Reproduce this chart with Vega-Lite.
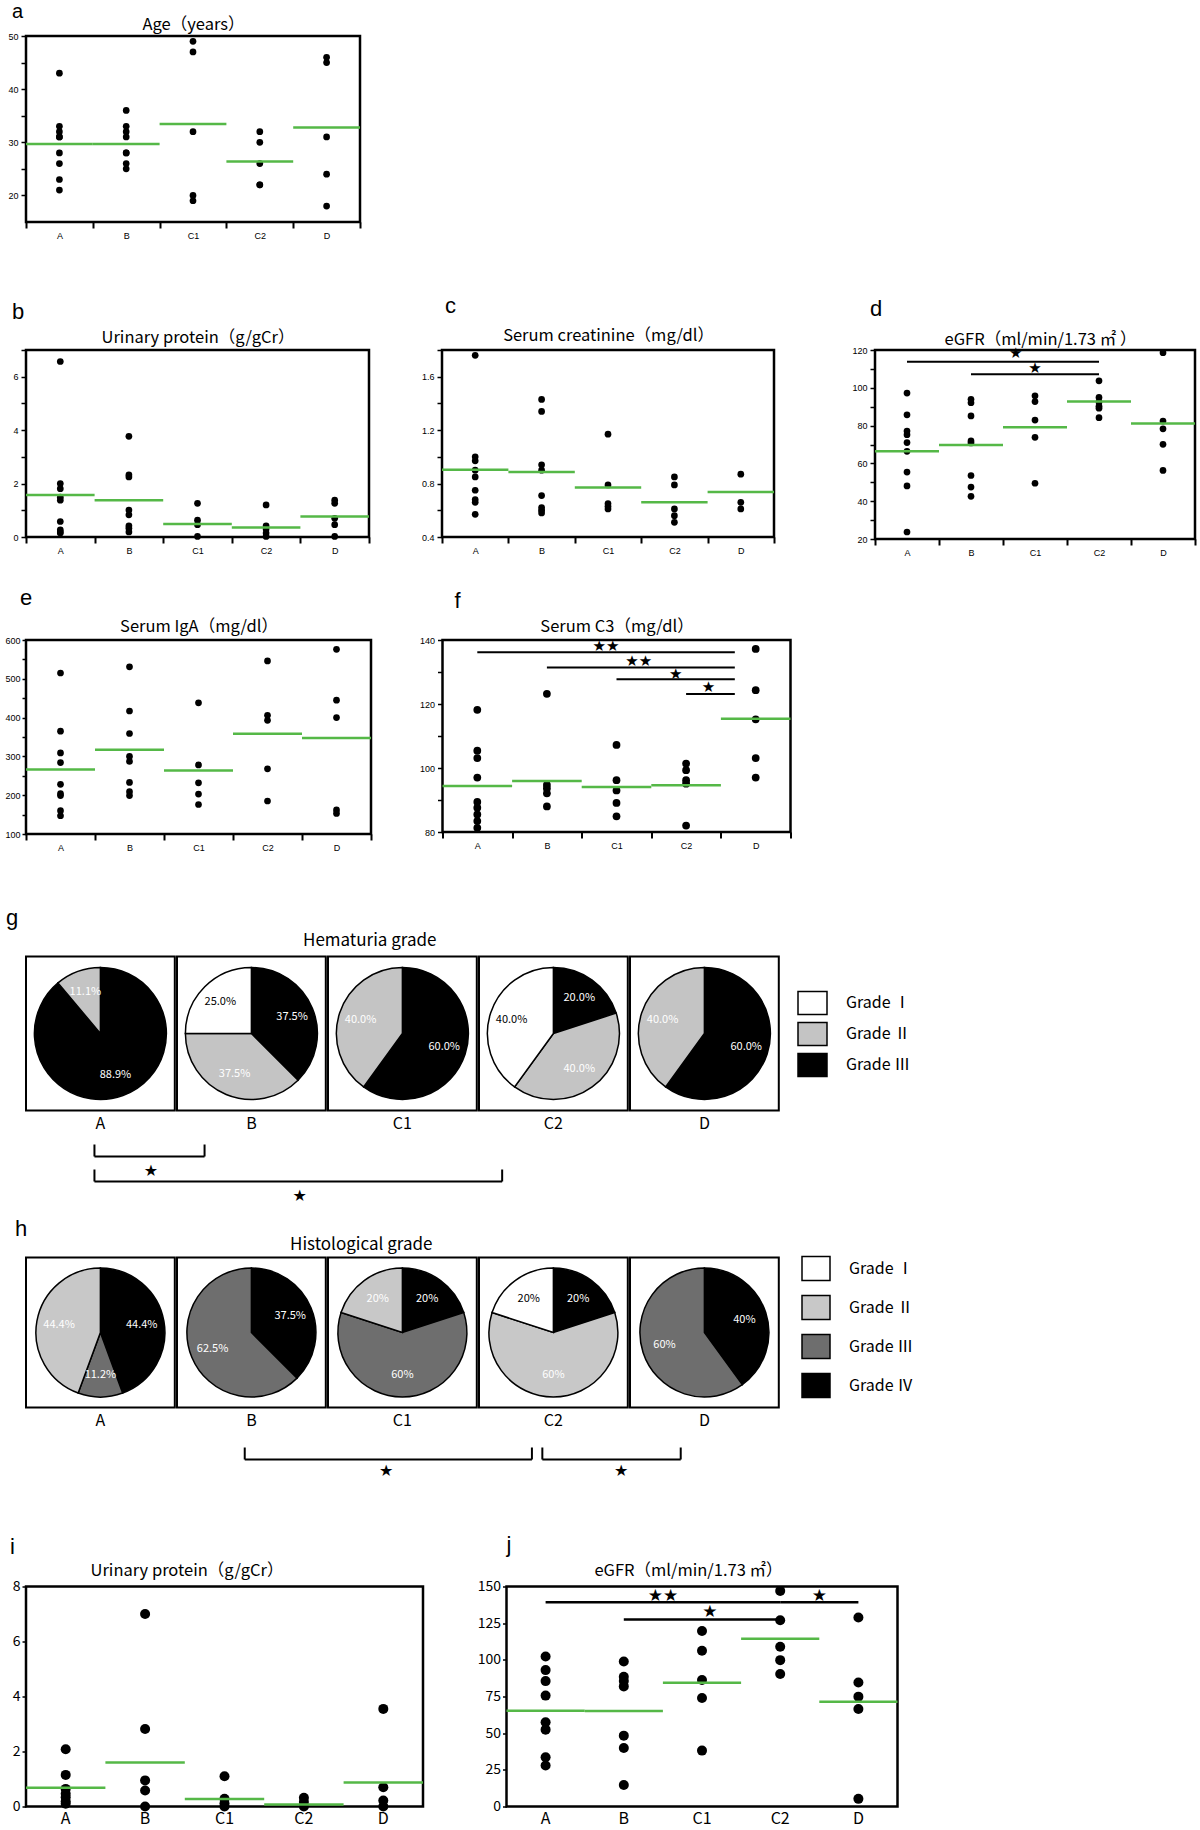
{
"$schema": "https://vega.github.io/schema/vega-lite/v6.json",
"padding": {"left": 0, "top": 0, "right": 0, "bottom": 0},
"background": "white",
"config": {
  "view": {"stroke": "black", "strokeWidth": 2.5},
  "font": "Noto Sans CJK JP",
  "title": {"color": "black", "fontWeight": "normal"},
  "axis": {"labelColor": "black", "tickColor": "black", "grid": false, "domain": false, "titleColor": "black", "titleFontWeight": "normal"},
  "header": {"labelColor": "black"},
  "legend": {"labelColor": "black"}
},
"datasets": {
  "a": [
    {"group":"A","value":43},{"group":"A","value":33},{"group":"A","value":32},{"group":"A","value":31},{"group":"A","value":31},{"group":"A","value":28},{"group":"A","value":26},{"group":"A","value":23},{"group":"A","value":21},
    {"group":"B","value":36},{"group":"B","value":33},{"group":"B","value":32},{"group":"B","value":31},{"group":"B","value":28},{"group":"B","value":28},{"group":"B","value":26},{"group":"B","value":25},
    {"group":"C1","value":49},{"group":"C1","value":47},{"group":"C1","value":32},{"group":"C1","value":20},{"group":"C1","value":19},
    {"group":"C2","value":32},{"group":"C2","value":30},{"group":"C2","value":26},{"group":"C2","value":22},{"group":"C2","value":22},
    {"group":"D","value":46},{"group":"D","value":45},{"group":"D","value":31},{"group":"D","value":24},{"group":"D","value":18}
  ],
  "aMean": [{"group":"A","value":29.7},{"group":"B","value":29.7},{"group":"C1","value":33.45},{"group":"C2","value":26.4},{"group":"D","value":32.8}],
  "b": [
    {"group":"A","value":6.57},{"group":"A","value":2.0},{"group":"A","value":1.81},{"group":"A","value":1.49},{"group":"A","value":1.38},{"group":"A","value":0.58},{"group":"A","value":0.27},{"group":"A","value":0.19},{"group":"A","value":0.15},
    {"group":"B","value":3.77},{"group":"B","value":2.33},{"group":"B","value":2.25},{"group":"B","value":1.01},{"group":"B","value":0.83},{"group":"B","value":0.42},{"group":"B","value":0.33},{"group":"B","value":0.19},
    {"group":"C1","value":1.26},{"group":"C1","value":0.63},{"group":"C1","value":0.46},{"group":"C1","value":0.02},
    {"group":"C2","value":1.2},{"group":"C2","value":0.42},{"group":"C2","value":0.3},{"group":"C2","value":0.15},{"group":"C2","value":0.02},
    {"group":"D","value":1.38},{"group":"D","value":1.26},{"group":"D","value":0.7},{"group":"D","value":0.46},{"group":"D","value":0.02}
  ],
  "bMean": [{"group":"A","value":1.57},{"group":"B","value":1.38},{"group":"C1","value":0.49},{"group":"C2","value":0.36},{"group":"D","value":0.77}],
  "c": [
    {"group":"A","value":1.76},{"group":"A","value":1.0},{"group":"A","value":0.97},{"group":"A","value":0.9},{"group":"A","value":0.85},{"group":"A","value":0.75},{"group":"A","value":0.68},{"group":"A","value":0.66},{"group":"A","value":0.57},
    {"group":"B","value":1.43},{"group":"B","value":1.34},{"group":"B","value":0.94},{"group":"B","value":0.9},{"group":"B","value":0.71},{"group":"B","value":0.62},{"group":"B","value":0.6},{"group":"B","value":0.58},
    {"group":"C1","value":1.17},{"group":"C1","value":0.79},{"group":"C1","value":0.65},{"group":"C1","value":0.63},{"group":"C1","value":0.61},
    {"group":"C2","value":0.85},{"group":"C2","value":0.79},{"group":"C2","value":0.61},{"group":"C2","value":0.56},{"group":"C2","value":0.51},
    {"group":"D","value":0.87},{"group":"D","value":0.66},{"group":"D","value":0.61}
  ],
  "cMean": [{"group":"A","value":0.903},{"group":"B","value":0.886},{"group":"C1","value":0.77},{"group":"C2","value":0.66},{"group":"D","value":0.737}],
  "d": [
    {"group":"A","value":97.2},{"group":"A","value":85.7},{"group":"A","value":77.1},{"group":"A","value":75.2},{"group":"A","value":71.0},{"group":"A","value":66.4},{"group":"A","value":55.4},{"group":"A","value":48.1},{"group":"A","value":23.7},
    {"group":"B","value":93.9},{"group":"B","value":92.1},{"group":"B","value":85.1},{"group":"B","value":71.9},{"group":"B","value":70.8},{"group":"B","value":53.6},{"group":"B","value":47.5},{"group":"B","value":42.6},
    {"group":"C1","value":95.8},{"group":"C1","value":92.7},{"group":"C1","value":82.9},{"group":"C1","value":73.8},{"group":"C1","value":49.5},
    {"group":"C2","value":103.7},{"group":"C2","value":94.9},{"group":"C2","value":92.5},{"group":"C2","value":90.3},{"group":"C2","value":89.2},{"group":"C2","value":84.2},
    {"group":"D","value":118.6},{"group":"D","value":82.4},{"group":"D","value":78.3},{"group":"D","value":70.1},{"group":"D","value":56.3}
  ],
  "dMean": [{"group":"A","value":66.4},{"group":"B","value":69.7},{"group":"C1","value":79.1},{"group":"C2","value":92.8},{"group":"D","value":81.1}],
  "dSig": [{"from":"A","to":"C2","value":113.8},{"from":"B","to":"C2","value":107.2}],
  "dStar1": [{"at":"C1","value":118.2,"label":"★"}],
  "dStar2": [{"at":"C1","value":110.3,"label":"★"}],
  "e": [
    {"group":"A","value":515},{"group":"A","value":365},{"group":"A","value":309},{"group":"A","value":284},{"group":"A","value":228},{"group":"A","value":204},{"group":"A","value":199},{"group":"A","value":160},{"group":"A","value":147},
    {"group":"B","value":531},{"group":"B","value":417},{"group":"B","value":359},{"group":"B","value":300},{"group":"B","value":287},{"group":"B","value":233},{"group":"B","value":209},{"group":"B","value":199},
    {"group":"C1","value":438},{"group":"C1","value":278},{"group":"C1","value":232},{"group":"C1","value":203},{"group":"C1","value":176},
    {"group":"C2","value":546},{"group":"C2","value":406},{"group":"C2","value":393},{"group":"C2","value":268},{"group":"C2","value":185},
    {"group":"D","value":576},{"group":"D","value":445},{"group":"D","value":400},{"group":"D","value":162},{"group":"D","value":153}
  ],
  "eMean": [{"group":"A","value":266.4},{"group":"B","value":317.2},{"group":"C1","value":263.8},{"group":"C2","value":358.6},{"group":"D","value":347.4}],
  "f": [
    {"group":"A","value":118.2},{"group":"A","value":105.4},{"group":"A","value":103.1},{"group":"A","value":97.0},{"group":"A","value":89.4},{"group":"A","value":87.6},{"group":"A","value":85.5},{"group":"A","value":83.4},{"group":"A","value":81.3},
    {"group":"B","value":123.2},{"group":"B","value":94.7},{"group":"B","value":93.6},{"group":"B","value":92.1},{"group":"B","value":88.0},
    {"group":"C1","value":107.2},{"group":"C1","value":96.2},{"group":"C1","value":93.0},{"group":"C1","value":89.1},{"group":"C1","value":84.9},
    {"group":"C2","value":101.4},{"group":"C2","value":99.3},{"group":"C2","value":96.2},{"group":"C2","value":95.1},{"group":"C2","value":82.0},
    {"group":"D","value":137.2},{"group":"D","value":124.3},{"group":"D","value":115.2},{"group":"D","value":103.1},{"group":"D","value":97.0}
  ],
  "fMean": [{"group":"A","value":94.4},{"group":"B","value":95.9},{"group":"C1","value":94.1},{"group":"C2","value":94.6},{"group":"D","value":115.4}],
  "fSig": [{"from":"A","to":"D","value":136.2},{"from":"B","to":"D","value":131.4},{"from":"C1","to":"D","value":127.7},{"from":"C2","to":"D","value":123.1}],
  "fStar1": [{"at":"C1","value":138.1,"label":"★★"},{"at":"C2","value":129.3,"label":"★"}],
  "fStar2": [{"at":"C1","value":133.4,"label":"★★"},{"at":"C2","value":125.3,"label":"★"}],
  "gPie": [
    {"group":"A","grade":"Grade Ⅲ","pct":88.9,"label":"88.9%"},{"group":"A","grade":"Grade Ⅱ","pct":11.1,"label":"11.1%"},
    {"group":"B","grade":"Grade Ⅲ","pct":37.5,"label":"37.5%"},{"group":"B","grade":"Grade Ⅱ","pct":37.5,"label":"37.5%"},{"group":"B","grade":"Grade Ⅰ","pct":25.0,"label":"25.0%"},
    {"group":"C1","grade":"Grade Ⅲ","pct":60.0,"label":"60.0%"},{"group":"C1","grade":"Grade Ⅱ","pct":40.0,"label":"40.0%"},
    {"group":"C2","grade":"Grade Ⅲ","pct":20.0,"label":"20.0%"},{"group":"C2","grade":"Grade Ⅱ","pct":40.0,"label":"40.0%"},{"group":"C2","grade":"Grade Ⅰ","pct":40.0,"label":"40.0%"},
    {"group":"D","grade":"Grade Ⅲ","pct":60.0,"label":"60.0%"},{"group":"D","grade":"Grade Ⅱ","pct":40.0,"label":"40.0%"}
  ],
  "gSig": [{"from":"A","to":"B","level":1},{"from":"A","to":"C2","level":2}],
  "gStar": [{"at":"A","level":1,"label":"★"},{"at":"B","level":2,"label":"★"}],
  "hPie": [
    {"group":"A","grade":"Grade Ⅳ","pct":44.4,"label":"44.4%"},{"group":"A","grade":"Grade Ⅲ","pct":11.2,"label":"11.2%"},{"group":"A","grade":"Grade Ⅱ","pct":44.4,"label":"44.4%"},
    {"group":"B","grade":"Grade Ⅳ","pct":37.5,"label":"37.5%"},{"group":"B","grade":"Grade Ⅲ","pct":62.5,"label":"62.5%"},
    {"group":"C1","grade":"Grade Ⅳ","pct":20,"label":"20%"},{"group":"C1","grade":"Grade Ⅲ","pct":60,"label":"60%"},{"group":"C1","grade":"Grade Ⅱ","pct":20,"label":"20%"},
    {"group":"C2","grade":"Grade Ⅳ","pct":20,"label":"20%"},{"group":"C2","grade":"Grade Ⅱ","pct":60,"label":"60%"},{"group":"C2","grade":"Grade Ⅰ","pct":20,"label":"20%"},
    {"group":"D","grade":"Grade Ⅳ","pct":40,"label":"40%"},{"group":"D","grade":"Grade Ⅲ","pct":60,"label":"60%"}
  ],
  "hSig": [{"from":"B","to":"C2","level":1},{"from":"C2","to":"D","level":1}],
  "hStar1": [{"at":"C1","level":1,"label":"★"}],
  "hStar2": [{"at":"D","level":1,"label":"★"}],
  "i": [
    {"group":"A","value":2.08},{"group":"A","value":1.15},{"group":"A","value":0.64},{"group":"A","value":0.46},{"group":"A","value":0.34},{"group":"A","value":0.19},{"group":"A","value":0.1},
    {"group":"B","value":7.0},{"group":"B","value":2.82},{"group":"B","value":0.95},{"group":"B","value":0.58},{"group":"B","value":0},
    {"group":"C1","value":1.1},{"group":"C1","value":0.28},{"group":"C1","value":0.12},{"group":"C1","value":0},
    {"group":"C2","value":0.32},{"group":"C2","value":0.16},{"group":"C2","value":0},
    {"group":"D","value":3.55},{"group":"D","value":0.7},{"group":"D","value":0.22},{"group":"D","value":0}
  ],
  "iMean": [{"group":"A","value":0.68},{"group":"B","value":1.6},{"group":"C1","value":0.27},{"group":"C2","value":0.07},{"group":"D","value":0.87}],
  "j": [
    {"group":"A","value":102.3},{"group":"A","value":93},{"group":"A","value":85.5},{"group":"A","value":75.6},{"group":"A","value":57.4},{"group":"A","value":52.4},{"group":"A","value":33.6},{"group":"A","value":27.9},
    {"group":"B","value":98.9},{"group":"B","value":88.5},{"group":"B","value":85.5},{"group":"B","value":81.9},{"group":"B","value":48.3},{"group":"B","value":39.9},{"group":"B","value":14.7},
    {"group":"C1","value":119.6},{"group":"C1","value":106.2},{"group":"C1","value":86.2},{"group":"C1","value":74},{"group":"C1","value":38.1},
    {"group":"C2","value":147},{"group":"C2","value":127},{"group":"C2","value":108.9},{"group":"C2","value":99.8},{"group":"C2","value":90.3},
    {"group":"D","value":128.9},{"group":"D","value":84.6},{"group":"D","value":74.9},{"group":"D","value":66.5},{"group":"D","value":5.2}
  ],
  "jMean": [{"group":"A","value":65.3},{"group":"B","value":65.1},{"group":"C1","value":84.4},{"group":"C2","value":114.4},{"group":"D","value":71.5}],
  "jSig": [{"from":"A","to":"C2","value":139.3},{"from":"B","to":"C2","value":127.5},{"from":"C2","to":"D","value":139.3}],
  "jStar1": [{"at":"C1","value":143.6,"label":"★★"},{"at":"D","value":143.6,"label":"★"}],
  "jStar2": [{"at":"C1","value":132.3,"label":"★"}]
},
"columns": 1, "align": "none", "spacing": 51,
"resolve": {"scale": {"color": "independent"}, "legend": {"color": "independent"}},
"concat": [
  {
    "width": 334, "height": 186,
    "title": {"text": "a", "anchor": "start", "frame": "bounds", "dx": 10, "offset": -6, "fontSize": 20, "font": "Liberation Sans"},
    "encoding": {"y": {"field": "value", "type": "quantitative", "scale": {"domain": [15, 50], "nice": false, "zero": false}, "axis": {"title": "Age（years）", "titleAngle": 0, "titleX": 167, "titleY": -4, "titleAlign": "center", "titleBaseline": "bottom", "titleFontSize": 16.5, "titleFont": "Noto Sans CJK JP", "values": [20,25,30,35,40,45,50], "labelExpr": "datum.value % 10 === 0 ? datum.label : ''", "domain": false, "grid": false, "tickSize": 5, "tickWidth": 1.5, "labelFontSize": 9, "labelFont": "Liberation Sans", "labelPadding": 3, "minExtent": 24, "labelFlush": false, "labelOverlap": false}}},
    "layer": [
      {"data": {"name": "a"}, "mark": {"type": "circle", "size": 45, "color": "black", "opacity": 1},
       "encoding": {"x": {"field": "group", "type": "nominal", "scale": {"domain": ["A","B","C1","C2","D"], "paddingInner": 0, "paddingOuter": 0}, "axis": {"title": null, "labelAngle": 0, "tickBand": "extent", "domain": false, "grid": false, "tickSize": 6, "tickWidth": 2, "labelFontSize": 9, "labelFont": "Liberation Sans", "labelPadding": 3}}}},
      {"data": {"name": "aMean"}, "mark": {"type": "tick", "color": "#55b847", "thickness": 2.5, "size": 66.8, "opacity": 1},
       "encoding": {"x": {"field": "group", "type": "nominal"}}}
    ]
  },
  {
    "columns": 1, "align": "none", "spacing": 26,
    "resolve": {"scale": {"color": "independent"}, "legend": {"color": "independent"}},
    "concat": [
      {
        "columns": 3, "align": "none", "spacing": 38,
        "concat": [
          {
            "width": 343, "height": 187,
            "title": {"text": "b", "anchor": "start", "frame": "bounds", "dx": 10, "offset": 5, "fontSize": 22, "font": "Liberation Sans"},
            "encoding": {"y": {"field": "value", "type": "quantitative", "scale": {"domain": [0, 7], "nice": false, "zero": false}, "axis": {"title": "Urinary protein（g/gCr）", "titleAngle": 0, "titleX": 171.5, "titleY": -5, "titleAlign": "center", "titleBaseline": "bottom", "titleFontSize": 16.5, "titleFont": "Noto Sans CJK JP", "values": [0,1,2,3,4,5,6,7], "labelExpr": "datum.value % 2 === 0 ? datum.label : ''", "domain": false, "grid": false, "tickSize": 5, "tickWidth": 1.5, "labelFontSize": 9, "labelFont": "Liberation Sans", "labelPadding": 3, "minExtent": 24, "labelFlush": false, "labelOverlap": false}}},
            "layer": [
              {"data": {"name": "b"}, "mark": {"type": "circle", "size": 45, "color": "black", "opacity": 1},
               "encoding": {"x": {"field": "group", "type": "nominal", "scale": {"domain": ["A","B","C1","C2","D"], "paddingInner": 0, "paddingOuter": 0}, "axis": {"title": null, "labelAngle": 0, "tickBand": "extent", "domain": false, "grid": false, "tickSize": 6, "tickWidth": 2, "labelFontSize": 9, "labelFont": "Liberation Sans", "labelPadding": 3}}}},
              {"data": {"name": "bMean"}, "mark": {"type": "tick", "color": "#55b847", "thickness": 2.5, "size": 68.6, "opacity": 1},
               "encoding": {"x": {"field": "group", "type": "nominal"}}}
            ]
          },
          {
            "width": 332, "height": 187,
            "title": {"text": "c", "anchor": "start", "frame": "bounds", "dx": 33, "offset": 9, "fontSize": 22, "font": "Liberation Sans"},
            "encoding": {"y": {"field": "value", "type": "quantitative", "scale": {"domain": [0.4, 1.8], "nice": false, "zero": false}, "axis": {"title": "Serum creatinine（mg/dl）", "titleAngle": 0, "titleX": 166, "titleY": -7, "titleAlign": "center", "titleBaseline": "bottom", "titleFontSize": 16.5, "titleFont": "Noto Sans CJK JP", "values": [0.4,0.6,0.8,1.0,1.2,1.4,1.6,1.8], "labelExpr": "round(datum.value*10) % 4 === 0 ? format(datum.value, '.1f') : ''", "domain": false, "grid": false, "tickSize": 5, "tickWidth": 1.5, "labelFontSize": 9, "labelFont": "Liberation Sans", "labelPadding": 3, "minExtent": 30, "labelFlush": false, "labelOverlap": false}}},
            "layer": [
              {"data": {"name": "c"}, "mark": {"type": "circle", "size": 45, "color": "black", "opacity": 1},
               "encoding": {"x": {"field": "group", "type": "nominal", "scale": {"domain": ["A","B","C1","C2","D"], "paddingInner": 0, "paddingOuter": 0}, "axis": {"title": null, "labelAngle": 0, "tickBand": "extent", "domain": false, "grid": false, "tickSize": 6, "tickWidth": 2, "labelFontSize": 9, "labelFont": "Liberation Sans", "labelPadding": 3}}}},
              {"data": {"name": "cMean"}, "mark": {"type": "tick", "color": "#55b847", "thickness": 2.5, "size": 66.4, "opacity": 1},
               "encoding": {"x": {"field": "group", "type": "nominal"}}}
            ]
          },
          {
            "width": 320, "height": 189,
            "title": {"text": "d", "anchor": "start", "frame": "bounds", "dx": 53, "offset": 10, "fontSize": 22, "font": "Liberation Sans"},
            "encoding": {"y": {"field": "value", "type": "quantitative", "scale": {"domain": [20, 120], "nice": false, "zero": false}, "axis": {"title": "eGFR（ml/min/1.73 ㎡ ）", "titleAngle": 0, "titleX": 165, "titleY": -3, "titleAlign": "center", "titleBaseline": "bottom", "titleFontSize": 16.5, "titleFont": "Noto Sans CJK JP", "values": [20,30,40,50,60,70,80,90,100,110,120], "labelExpr": "datum.value % 20 === 0 ? datum.label : ''", "domain": false, "grid": false, "tickSize": 5, "tickWidth": 1.5, "labelFontSize": 9, "labelFont": "Liberation Sans", "labelPadding": 3, "minExtent": 58, "labelFlush": false, "labelOverlap": false}}},
            "layer": [
              {"data": {"name": "d"}, "mark": {"type": "circle", "size": 45, "color": "black", "opacity": 1},
               "encoding": {"x": {"field": "group", "type": "nominal", "scale": {"domain": ["A","B","C1","C2","D"], "paddingInner": 0, "paddingOuter": 0}, "axis": {"title": null, "labelAngle": 0, "tickBand": "extent", "domain": false, "grid": false, "tickSize": 6, "tickWidth": 2, "labelFontSize": 9, "labelFont": "Liberation Sans", "labelPadding": 3}}}},
              {"data": {"name": "dMean"}, "mark": {"type": "tick", "color": "#55b847", "thickness": 2.5, "size": 64, "opacity": 1},
               "encoding": {"x": {"field": "group", "type": "nominal"}}},
              {"data": {"name": "dSig"}, "mark": {"type": "rule", "color": "black", "strokeWidth": 2},
               "encoding": {"x": {"field": "from", "type": "nominal"}, "x2": {"field": "to"}}},
              {"data": {"name": "dStar1"}, "mark": {"type": "text", "fontSize": 15, "font": "DejaVu Sans", "color": "black", "baseline": "middle", "align": "center"},
               "encoding": {"x": {"field": "at", "type": "nominal", "bandPosition": 0.2}, "text": {"field": "label", "type": "nominal"}}},
              {"data": {"name": "dStar2"}, "mark": {"type": "text", "fontSize": 15, "font": "DejaVu Sans", "color": "black", "baseline": "middle", "align": "center"},
               "encoding": {"x": {"field": "at", "type": "nominal", "bandPosition": 0.5}, "text": {"field": "label", "type": "nominal"}}}
            ]
          }
        ]
      },
      {
        "columns": 1, "align": "none", "spacing": 52.5,
        "resolve": {"scale": {"color": "independent"}, "legend": {"color": "independent"}},
        "concat": [
          {
            "columns": 2, "align": "none", "spacing": 39.5,
            "concat": [
              {
                "width": 345, "height": 194,
                "title": {"text": "e", "anchor": "start", "frame": "bounds", "dx": 18, "offset": 8, "fontSize": 22, "font": "Liberation Sans"},
                "encoding": {"y": {"field": "value", "type": "quantitative", "scale": {"domain": [100, 600], "nice": false, "zero": false}, "axis": {"title": "Serum IgA（mg/dl）", "titleAngle": 0, "titleX": 172.5, "titleY": -6, "titleAlign": "center", "titleBaseline": "bottom", "titleFontSize": 16.5, "titleFont": "Noto Sans CJK JP", "values": [100,150,200,250,300,350,400,450,500,550,600], "labelExpr": "datum.value % 100 === 0 ? datum.label : ''", "domain": false, "grid": false, "tickSize": 4, "tickWidth": 1.5, "labelFontSize": 9, "labelFont": "Liberation Sans", "labelPadding": 2, "minExtent": 24, "labelFlush": false, "labelOverlap": false}}},
                "layer": [
                  {"data": {"name": "e"}, "mark": {"type": "circle", "size": 45, "color": "black", "opacity": 1},
                   "encoding": {"x": {"field": "group", "type": "nominal", "scale": {"domain": ["A","B","C1","C2","D"], "paddingInner": 0, "paddingOuter": 0}, "axis": {"title": null, "labelAngle": 0, "tickBand": "extent", "domain": false, "grid": false, "tickSize": 6, "tickWidth": 2, "labelFontSize": 9, "labelFont": "Liberation Sans", "labelPadding": 3}}}},
                  {"data": {"name": "eMean"}, "mark": {"type": "tick", "color": "#55b847", "thickness": 2.5, "size": 69, "opacity": 1},
                   "encoding": {"x": {"field": "group", "type": "nominal"}}}
                ]
              },
              {
                "width": 348, "height": 192,
                "title": {"text": "f", "anchor": "start", "frame": "bounds", "dx": 39, "offset": 5, "fontSize": 22, "font": "Liberation Sans"},
                "encoding": {"y": {"field": "value", "type": "quantitative", "scale": {"domain": [80, 140], "nice": false, "zero": false}, "axis": {"title": "Serum C3（mg/dl）", "titleAngle": 0, "titleX": 174, "titleY": -6, "titleAlign": "center", "titleBaseline": "bottom", "titleFontSize": 16.5, "titleFont": "Noto Sans CJK JP", "values": [80,90,100,110,120,130,140], "labelExpr": "(datum.value - 80) % 20 === 0 ? datum.label : ''", "domain": false, "grid": false, "tickSize": 5, "tickWidth": 1.5, "labelFontSize": 9, "labelFont": "Liberation Sans", "labelPadding": 3, "minExtent": 27, "labelFlush": false, "labelOverlap": false}}},
                "layer": [
                  {"data": {"name": "f"}, "mark": {"type": "circle", "size": 60, "color": "black", "opacity": 1},
                   "encoding": {"x": {"field": "group", "type": "nominal", "scale": {"domain": ["A","B","C1","C2","D"], "paddingInner": 0, "paddingOuter": 0}, "axis": {"title": null, "labelAngle": 0, "tickBand": "extent", "domain": false, "grid": false, "tickSize": 6, "tickWidth": 2, "labelFontSize": 9, "labelFont": "Liberation Sans", "labelPadding": 3}}}},
                  {"data": {"name": "fMean"}, "mark": {"type": "tick", "color": "#55b847", "thickness": 2.5, "size": 69.6, "opacity": 1},
                   "encoding": {"x": {"field": "group", "type": "nominal"}}},
                  {"data": {"name": "fSig"}, "mark": {"type": "rule", "color": "black", "strokeWidth": 2},
                   "encoding": {"x": {"field": "from", "type": "nominal", "bandPosition": 0.5}, "x2": {"field": "to", "bandPosition": 0.2}}},
                  {"data": {"name": "fStar1"}, "mark": {"type": "text", "fontSize": 15, "font": "DejaVu Sans", "color": "black", "baseline": "middle", "align": "center"},
                   "encoding": {"x": {"field": "at", "type": "nominal", "bandPosition": 0.35}, "text": {"field": "label", "type": "nominal"}}},
                  {"data": {"name": "fStar2"}, "mark": {"type": "text", "fontSize": 15, "font": "DejaVu Sans", "color": "black", "baseline": "middle", "align": "center"},
                   "encoding": {"x": {"field": "at", "type": "nominal", "bandPosition": 0.82}, "text": {"field": "label", "type": "nominal"}}}
                ]
              }
            ]
          },
          {
            "columns": 1, "align": "none", "spacing": 0,
            "resolve": {"scale": {"color": "independent"}, "legend": {"color": "independent"}},
            "concat": [
              {
                "title": {"text": "g", "anchor": "start", "frame": "bounds", "dx": -19, "offset": 2, "fontSize": 22, "font": "Liberation Sans"},
                "vconcat": [{
                  "data": {"name": "gPie"},
                  "title": {"text": "Hematuria grade", "anchor": "start", "frame": "bounds", "dx": 278, "fontSize": 17, "offset": 5.5},
                  "facet": {"column": {"field": "group", "type": "nominal", "sort": ["A","B","C1","C2","D"], "header": {"title": null, "labelOrient": "bottom", "labelFontSize": 16, "labelFont": "Noto Sans CJK JP", "labelPadding": 4}}},
                  "spacing": 0,
                  "spec": {
                    "width": 148.8, "height": 154,
                    "view": {"stroke": "black", "strokeWidth": 2},
                    "layer": [
                      {"mark": {"type": "arc", "outerRadius": 66, "stroke": "black", "strokeWidth": 1.5},
                       "encoding": {
                         "theta": {"field": "pct", "type": "quantitative", "stack": true},
                         "order": {"field": "grade", "sort": "descending"},
                         "color": {"field": "grade", "type": "nominal", "scale": {"domain": ["Grade Ⅰ","Grade Ⅱ","Grade Ⅲ"], "range": ["#ffffff","#c4c4c4","#000000"]},
                           "legend": {"title": null, "orient": "none", "legendX": 771, "legendY": 31, "symbolType": "M-1,-0.8H1V0.8H-1Z", "symbolSize": 841, "symbolStrokeColor": "black", "symbolStrokeWidth": 1.5, "labelFontSize": 16, "labelFont": "Noto Sans CJK JP", "labelOffset": 18, "rowPadding": 0, "padding": 0}}
                       }},
                      {"mark": {"type": "text", "radius": 44, "fontSize": 11, "font": "Noto Sans CJK JP"},
                       "encoding": {
                         "theta": {"field": "pct", "type": "quantitative", "stack": true},
                         "order": {"field": "grade", "sort": "descending"},
                         "text": {"field": "label", "type": "nominal"},
                         "color": {"condition": {"test": "datum.grade === 'Grade Ⅰ'", "value": "black"}, "value": "white"}
                       }}
                    ]
                  }
                }]
              },
              {
                "columns": 1, "align": "none", "spacing": 14,
                "resolve": {"scale": {"color": "independent"}, "legend": {"color": "independent"}},
                "concat": [
                  {
                    "width": 744, "height": 50,
                    "view": {"stroke": null},
                    "data": {"name": "gSig"},
                    "layer": [
                      {"mark": {"type": "rule", "color": "black", "strokeWidth": 2},
                       "encoding": {
                         "x": {"field": "from", "type": "nominal", "bandPosition": 0.46, "scale": {"domain": ["A","B","C1","C2","D"], "paddingInner": 0, "paddingOuter": 0}, "axis": null},
                         "x2": {"field": "to", "bandPosition": 0.2},
                         "y": {"field": "level", "type": "quantitative", "scale": {"domain": [0, 2], "reverse": true, "nice": false, "zero": false}, "axis": null}
                       }},
                      {"mark": {"type": "point", "shape": "M0,-1L0,0", "size": 576, "filled": false, "color": "black", "strokeWidth": 2, "opacity": 1},
                       "encoding": {"x": {"field": "from", "type": "nominal", "bandPosition": 0.46, "axis": null}, "y": {"field": "level", "type": "quantitative", "axis": null}}},
                      {"mark": {"type": "point", "shape": "M0,-1L0,0", "size": 576, "filled": false, "color": "black", "strokeWidth": 2, "opacity": 1},
                       "encoding": {"x": {"field": "to", "type": "nominal", "bandPosition": 0.2, "axis": null}, "y": {"field": "level", "type": "quantitative", "axis": null}}},
                      {"data": {"name": "gStar"}, "mark": {"type": "text", "dy": 14, "fontSize": 16, "font": "DejaVu Sans", "color": "black", "baseline": "middle", "align": "center"},
                       "encoding": {"x": {"field": "at", "type": "nominal", "bandPosition": 0.84, "axis": null}, "y": {"field": "level", "type": "quantitative", "axis": null}, "text": {"field": "label", "type": "nominal"}}}
                    ]
                  },
                  {
                    "columns": 1, "align": "none", "spacing": 0,
                    "resolve": {"scale": {"color": "independent"}, "legend": {"color": "independent"}},
                    "concat": [
                      {
                        "title": {"text": "h", "anchor": "start", "frame": "bounds", "dx": -10, "offset": -5, "fontSize": 22, "font": "Liberation Sans"},
                        "vconcat": [{
                          "data": {"name": "hPie"},
                          "title": {"text": "Histological grade", "anchor": "start", "frame": "bounds", "dx": 265, "fontSize": 17, "offset": 3},
                          "facet": {"column": {"field": "group", "type": "nominal", "sort": ["A","B","C1","C2","D"], "header": {"title": null, "labelOrient": "bottom", "labelFontSize": 16, "labelFont": "Noto Sans CJK JP", "labelPadding": 4}}},
                          "spacing": 0,
                          "spec": {
                            "width": 148.8, "height": 150,
                            "view": {"stroke": "black", "strokeWidth": 2},
                            "layer": [
                              {"mark": {"type": "arc", "outerRadius": 64.5, "stroke": "black", "strokeWidth": 1.5},
                               "encoding": {
                                 "theta": {"field": "pct", "type": "quantitative", "stack": true},
                                 "order": {"field": "grade", "sort": "descending"},
                                 "color": {"field": "grade", "type": "nominal", "scale": {"domain": ["Grade Ⅰ","Grade Ⅱ","Grade Ⅲ","Grade Ⅳ"], "range": ["#ffffff","#c8c8c8","#6e6e6e","#000000"]},
                                   "legend": {"title": null, "orient": "none", "legendX": 775, "legendY": -4, "symbolType": "M-1,-0.85H1V0.85H-1Z", "symbolSize": 784, "symbolStrokeColor": "black", "symbolStrokeWidth": 1.5, "labelFontSize": 16, "labelFont": "Noto Sans CJK JP", "labelOffset": 18, "rowPadding": 9, "padding": 0}}
                               }},
                              {"mark": {"type": "text", "radius": 42, "fontSize": 11, "font": "Noto Sans CJK JP"},
                               "encoding": {
                                 "theta": {"field": "pct", "type": "quantitative", "stack": true},
                                 "order": {"field": "grade", "sort": "descending"},
                                 "text": {"field": "label", "type": "nominal"},
                                 "color": {"condition": {"test": "datum.grade === 'Grade Ⅰ'", "value": "black"}, "value": "white"}
                               }}
                            ]
                          }
                        }]
                      },
                      {
                        "columns": 1, "align": "none", "spacing": 53,
                        "resolve": {"scale": {"color": "independent"}, "legend": {"color": "independent"}},
                        "concat": [
                          {
                            "width": 744, "height": 31,
                            "view": {"stroke": null},
                            "data": {"name": "hSig"},
                            "layer": [
                              {"mark": {"type": "rule", "color": "black", "strokeWidth": 2},
                               "encoding": {
                                 "x": {"field": "from", "type": "nominal", "bandPosition": 0.47, "scale": {"domain": ["A","B","C1","C2","D"], "paddingInner": 0, "paddingOuter": 0}, "axis": null},
                                 "x2": {"field": "to", "bandPosition": 0.4},
                                 "y": {"field": "level", "type": "quantitative", "scale": {"domain": [0, 1], "reverse": true, "nice": false, "zero": false}, "axis": null}
                               }},
                              {"mark": {"type": "point", "shape": "M0,-1L0,0", "size": 576, "filled": false, "color": "black", "strokeWidth": 2, "opacity": 1},
                               "encoding": {"x": {"field": "from", "type": "nominal", "bandPosition": 0.47, "axis": null}, "y": {"field": "level", "type": "quantitative", "axis": null}}},
                              {"mark": {"type": "point", "shape": "M0,-1L0,0", "size": 576, "filled": false, "color": "black", "strokeWidth": 2, "opacity": 1},
                               "encoding": {"x": {"field": "to", "type": "nominal", "bandPosition": 0.4, "axis": null}, "y": {"field": "level", "type": "quantitative", "axis": null}}},
                              {"data": {"name": "hStar1"}, "mark": {"type": "text", "dy": 11, "fontSize": 16, "font": "DejaVu Sans", "color": "black", "baseline": "middle", "align": "center"},
                               "encoding": {"x": {"field": "at", "type": "nominal", "bandPosition": 0.42, "axis": null}, "y": {"field": "level", "type": "quantitative", "axis": null}, "text": {"field": "label", "type": "nominal"}}},
                              {"data": {"name": "hStar2"}, "mark": {"type": "text", "dy": 11, "fontSize": 16, "font": "DejaVu Sans", "color": "black", "baseline": "middle", "align": "center"},
                               "encoding": {"x": {"field": "at", "type": "nominal", "bandPosition": 0.0, "axis": null}, "y": {"field": "level", "type": "quantitative", "axis": null}, "text": {"field": "label", "type": "nominal"}}}
                            ]
                          },
                          {
                            "columns": 2, "align": "none", "spacing": 35.5,
                            "concat": [
                              {
                                "width": 397, "height": 220,
                                "title": {"text": "i", "anchor": "start", "frame": "bounds", "dx": 8, "offset": 4, "fontSize": 22, "font": "Liberation Sans"},
                                "encoding": {"y": {"field": "value", "type": "quantitative", "scale": {"domain": [0, 8], "nice": false, "zero": false}, "axis": {"title": "Urinary protein（g/gCr）", "titleAngle": 0, "titleX": 160.5, "titleY": -8, "titleAlign": "center", "titleBaseline": "bottom", "titleFontSize": 16.5, "titleFont": "Noto Sans CJK JP", "values": [0,2,4,6,8], "domain": false, "grid": false, "tickSize": 4, "tickWidth": 1.5, "labelFontSize": 14, "labelFont": "Noto Sans CJK JP", "labelPadding": 2, "minExtent": 24, "labelFlush": false, "labelOverlap": false}}},
                                "layer": [
                                  {"data": {"name": "i"}, "mark": {"type": "circle", "size": 100, "color": "black", "opacity": 1},
                                   "encoding": {"x": {"field": "group", "type": "nominal", "scale": {"domain": ["A","B","C1","C2","D"], "paddingInner": 0, "paddingOuter": 0}, "axis": {"title": null, "labelAngle": 0, "ticks": false, "domain": false, "grid": false, "labelFontSize": 16, "labelFont": "Noto Sans CJK JP", "labelPadding": 4}}}},
                                  {"data": {"name": "iMean"}, "mark": {"type": "tick", "color": "#55b847", "thickness": 2.5, "size": 79.4, "opacity": 1},
                                   "encoding": {"x": {"field": "group", "type": "nominal"}}}
                                ]
                              },
                              {
                                "width": 391, "height": 220,
                                "title": {"text": "j", "anchor": "start", "frame": "bounds", "dx": 44, "offset": 6, "fontSize": 22, "font": "Liberation Sans"},
                                "encoding": {"y": {"field": "value", "type": "quantitative", "scale": {"domain": [0, 150], "nice": false, "zero": false}, "axis": {"title": "eGFR（ml/min/1.73 ㎡）", "titleAngle": 0, "titleX": 181.5, "titleY": -8, "titleAlign": "center", "titleBaseline": "bottom", "titleFontSize": 16.5, "titleFont": "Noto Sans CJK JP", "values": [0,25,50,75,100,125,150], "domain": false, "grid": false, "tickSize": 4, "tickWidth": 1.5, "labelFontSize": 14, "labelFont": "Noto Sans CJK JP", "labelPadding": 2, "minExtent": 44, "labelFlush": false, "labelOverlap": false}}},
                                "layer": [
                                  {"data": {"name": "j"}, "mark": {"type": "circle", "size": 100, "color": "black", "opacity": 1},
                                   "encoding": {"x": {"field": "group", "type": "nominal", "scale": {"domain": ["A","B","C1","C2","D"], "paddingInner": 0, "paddingOuter": 0}, "axis": {"title": null, "labelAngle": 0, "ticks": false, "domain": false, "grid": false, "labelFontSize": 16, "labelFont": "Noto Sans CJK JP", "labelPadding": 4}}}},
                                  {"data": {"name": "jMean"}, "mark": {"type": "tick", "color": "#55b847", "thickness": 2.5, "size": 78.2, "opacity": 1},
                                   "encoding": {"x": {"field": "group", "type": "nominal"}}},
                                  {"data": {"name": "jSig"}, "mark": {"type": "rule", "color": "black", "strokeWidth": 2.5},
                                   "encoding": {"x": {"field": "from", "type": "nominal"}, "x2": {"field": "to"}}},
                                  {"data": {"name": "jStar1"}, "mark": {"type": "text", "fontSize": 17, "font": "DejaVu Sans", "color": "black", "baseline": "middle", "align": "center"},
                                   "encoding": {"x": {"field": "at", "type": "nominal", "bandPosition": 0.0}, "text": {"field": "label", "type": "nominal"}}},
                                  {"data": {"name": "jStar2"}, "mark": {"type": "text", "fontSize": 17, "font": "DejaVu Sans", "color": "black", "baseline": "middle", "align": "center"},
                                   "encoding": {"x": {"field": "at", "type": "nominal", "bandPosition": 0.6}, "text": {"field": "label", "type": "nominal"}}}
                                ]
                              }
                            ]
                          }
                        ]
                      }
                    ]
                  }
                ]
              }
            ]
          }
        ]
      }
    ]
  }
]
}
